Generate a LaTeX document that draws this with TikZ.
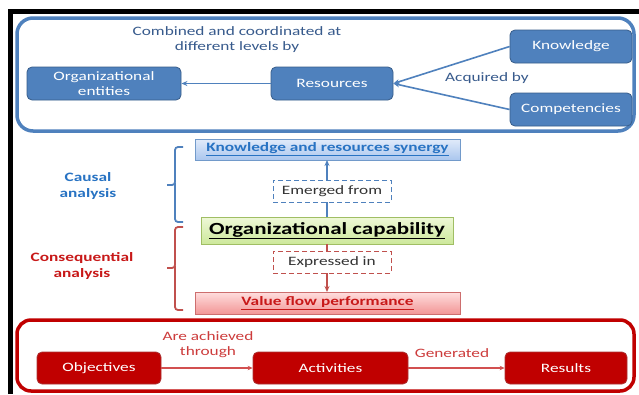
\documentclass[tikz,border=0pt]{standalone}
\usepackage{fontspec}
\setmainfont{Carlito}[FakeStretch=1.35]
\usetikzlibrary{arrows.meta}
\definecolor{bfill}{RGB}{79,129,189}
\definecolor{bdark}{RGB}{56,93,138}
\definecolor{btext}{RGB}{55,90,140}
\definecolor{cblue}{RGB}{40,115,195}
\definecolor{rfill}{RGB}{192,0,0}
\definecolor{rdark}{RGB}{150,0,0}
\definecolor{rtext}{RGB}{205,60,60}
\definecolor{cred}{RGB}{200,25,25}
\definecolor{dred}{RGB}{192,80,77}
\definecolor{syntop}{RGB}{225,235,250}
\definecolor{synbot}{RGB}{170,198,238}
\definecolor{gtop}{RGB}{238,248,215}
\definecolor{gbot}{RGB}{205,232,155}
\definecolor{gdraw}{RGB}{160,190,100}
\definecolor{ptop}{RGB}{255,222,222}
\definecolor{pbot}{RGB}{242,150,150}
\definecolor{pdraw}{RGB}{205,110,110}
\tikzset{
  fs/.style={font=\fontsize{12.8}{15}\selectfont},
  bluebox/.style={fs, rounded corners=5pt, fill=bfill, draw=bdark, line width=0.8pt, text=white, align=center, inner sep=0pt},
  redbox/.style={fs, rounded corners=5pt, fill=rfill, draw=rdark!80, line width=0.8pt, text=white, align=center, inner sep=0pt},
  dashbox/.style={fs, fill=white, dashed, dash pattern=on 5pt off 3pt, line width=1pt, text=black!80, inner sep=0pt, minimum width=118pt, minimum height=22pt},
  bararrow/.style={line width=1.8pt, -{Stealth[length=6pt,width=5pt]}},
  lbl/.style={fs, align=center},
  brc/.style={line width=1.8pt, rounded corners=3pt},
}
\begin{document}
\begin{tikzpicture}[x=1pt,y=-1pt]
\useasboundingbox (0,0) rectangle (639,394);
\fill[white] (0,0) rectangle (639,394);
% black frame
\draw[line width=5pt, black] (10.5,394) -- (10.5,11.5) -- (639,11.5);
% top blue frame
\draw[bfill, line width=3.5pt, rounded corners=16pt] (17,18) rectangle (634,131);
\node[lbl, text=btext] (comb) at (237,40) {Combined and coordinated at\\different levels by};
\node[bluebox, minimum width=154pt, minimum height=33pt] (org) at (104,83.5) {Organizational\\entities};
\node[bluebox, minimum width=122pt, minimum height=33pt] (res) at (332,83.5) {Resources};
\node[bluebox, minimum width=122pt, minimum height=33pt] (know) at (571,46.5) {Knowledge};
\node[bluebox, minimum width=122pt, minimum height=33pt] (comp) at (571,109.5) {Competencies};
\node[lbl, text=btext] (acq) at (487,78) {Acquired by};
\draw[bfill, line width=1.6pt, -{Stealth[length=6pt,width=5pt]}] (res.west) -- (org.east);
\draw[bfill, line width=1.6pt, -{Stealth[length=6pt,width=5pt]}] (know.west) -- (res.east);
\draw[bfill, line width=1.6pt, -{Stealth[length=6pt,width=5pt]}] (comp.west) -- (res.east);
% middle
\node[top color=syntop, bottom color=synbot, draw=bfill!80, line width=0.8pt, minimum width=265pt, minimum height=21pt, inner sep=0pt, text=cblue, font=\fontsize{12.8}{15}\selectfont\bfseries] (syn) at (327.5,149.5) {\underline{Knowledge and resources synergy}};
\node[top color=gtop, bottom color=gbot, draw=gdraw, line width=0.8pt, minimum width=252pt, minimum height=27pt, inner sep=0pt, text=black, font=\fontsize{17}{20}\selectfont\bfseries] (cap) at (327,230.5) {\underline{Organizational capability}};
\node[top color=ptop, bottom color=pbot, draw=pdraw, line width=0.8pt, minimum width=265pt, minimum height=22pt, inner sep=0pt, text=cred, font=\fontsize{12.8}{15}\selectfont\bfseries] (val) at (327.5,303) {\underline{Value flow performance}};
\coordinate (capt) at (327,217);
\coordinate (capb) at (327,244);
\coordinate (synb) at (327,160);
\coordinate (valt) at (327,292);
\draw[bfill, bararrow] (capt) -- (synb);
\draw[dred, bararrow] (capb) -- (valt);
\node[dashbox, draw=bfill] (emg) at (332,191) {Emerged from};
\node[dashbox, draw=dred] (exp) at (332,262) {Expressed in};
% braces
\draw[bfill, brc] (183,147) -- (175,147) -- (175,185) -- (167,185);
\draw[bfill, brc] (175,183) -- (175,222) -- (183,222);
\draw[dred, brc] (183,227) -- (175,227) -- (175,268) -- (167,268);
\draw[dred, brc] (175,266) -- (175,310) -- (183,310);
\node[lbl, text=cblue, font=\fontsize{12.8}{15.5}\selectfont\bfseries] (caus) at (88,186) {Causal\\analysis};
\node[lbl, text=cred, font=\fontsize{12.8}{15.5}\selectfont\bfseries] (cons) at (82,266) {Consequential\\analysis};
% bottom red frame
\draw[rfill, line width=3.5pt, rounded corners=14pt] (17,320) rectangle (634,391);
\node[redbox, minimum width=124pt, minimum height=32pt] (obj) at (99,368) {Objectives};
\node[redbox, minimum width=155pt, minimum height=32pt] (act) at (330.5,368) {Activities};
\node[redbox, minimum width=122pt, minimum height=32pt] (resu) at (566,368) {Results};
\node[lbl, text=rtext] (ach) at (208,345) {Are achieved\\through};
\node[lbl, text=rtext] (gen) at (452,353) {Generated};
\draw[rtext!90, line width=1.3pt, -{Stealth[length=5pt,width=4.5pt]}] (obj.east) -- (act.west);
\draw[rtext!90, line width=1.3pt, -{Stealth[length=5pt,width=4.5pt]}] (act.east) -- (resu.west);
\end{tikzpicture}
\end{document}
